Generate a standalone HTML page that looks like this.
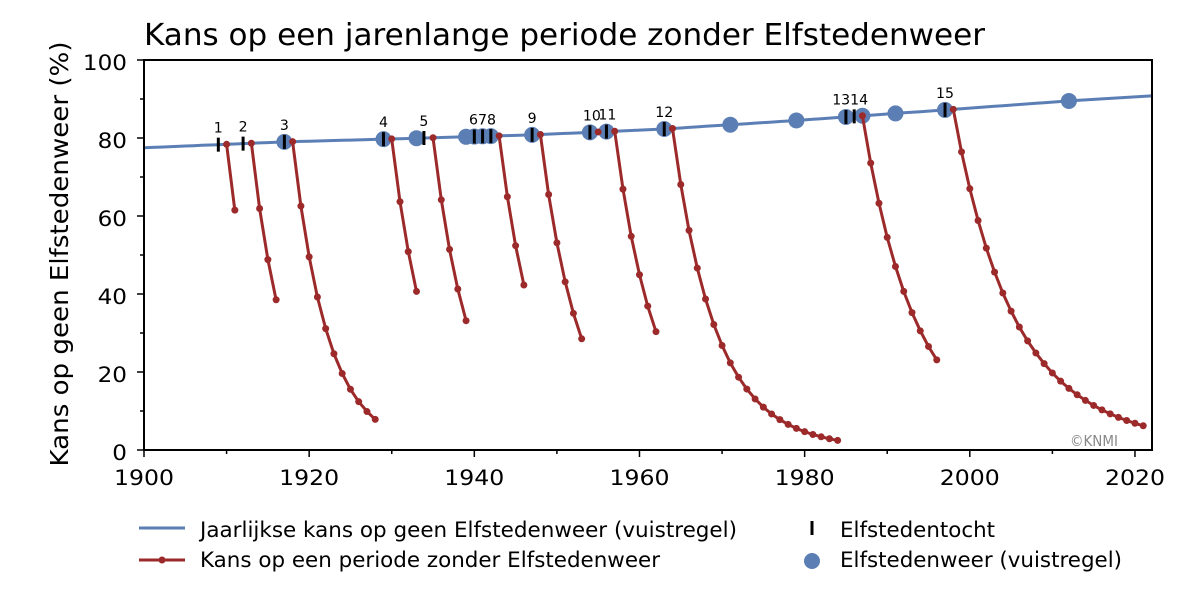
<!DOCTYPE html>
<html><head><meta charset="utf-8"><style>
html,body{margin:0;padding:0;background:#fff;}
svg{display:block;font-family:"DejaVu Sans","Liberation Sans",sans-serif;}
</style></head><body>
<svg id="s" width="1200" height="600" viewBox="0 0 1200 600">
<text x="144" y="45" font-size="30" fill="#000" textLength="841" lengthAdjust="spacingAndGlyphs">Kans op een jarenlange periode zonder Elfstedenweer</text>
<text transform="translate(68,254) rotate(-90)" font-size="25" text-anchor="middle" textLength="425" lengthAdjust="spacingAndGlyphs">Kans op geen Elfstedenweer (%)</text>
<g id="ticks" font-size="21.5"></g>
<g id="plot"></g>
<rect x="144" y="60" width="1008" height="390" fill="none" stroke="#000" stroke-width="2"/>
<text x="1070" y="446" font-size="15" fill="#888" textLength="48" lengthAdjust="spacingAndGlyphs">©KNMI</text>
<g font-size="21">
<line x1="139" y1="528" x2="185" y2="528" stroke="#5b7fb5" stroke-width="3"/>
<text x="200" y="537" textLength="537" lengthAdjust="spacingAndGlyphs">Jaarlijkse kans op geen Elfstedenweer (vuistregel)</text>
<line x1="139" y1="560" x2="185" y2="560" stroke="#9c2a2a" stroke-width="3"/>
<circle cx="162" cy="560" r="3.5" fill="#9c2a2a"/>
<text x="200" y="567" textLength="460" lengthAdjust="spacingAndGlyphs">Kans op een periode zonder Elfstedenweer</text>
<line x1="812" y1="521" x2="812" y2="535" stroke="#000" stroke-width="3"/>
<text x="840" y="537" textLength="155" lengthAdjust="spacingAndGlyphs">Elfstedentocht</text>
<circle cx="812" cy="561" r="8" fill="#5b7fb5"/>
<text x="840" y="567" textLength="282" lengthAdjust="spacingAndGlyphs">Elfstedenweer (vuistregel)</text>
</g>
</svg>
<script>
var NS="http://www.w3.org/2000/svg";
function X(y){return 144+(y-1900)*8.258;}
function Y(v){return 450-v*3.9;}
var bp=[[1900,77.5],[1917,79.0],[1929,79.7],[1947,80.8],[1963,82.3],[1979,84.5],[1997,87.2],[2012,89.5],[2022,90.8]];
function B(y){for(var i=0;i<bp.length-1;i++){if(y<=bp[i+1][0]){var a=bp[i],b=bp[i+1];return a[1]+(b[1]-a[1])*(y-a[0])/(b[0]-a[0]);}}return 90.8;}
function el(n,a,p){var e=document.createElementNS(NS,n);for(var k in a)e.setAttribute(k,a[k]);(p||document.getElementById('plot')).appendChild(e);return e;}
var t=document.getElementById('ticks');
for(var v=0;v<=100;v+=10){var yy=Y(v);el('line',{x1:144-(v%20?4:7),y1:yy,x2:144,y2:yy,stroke:'#000','stroke-width':1.5},t);
 if(v%20==0){var s=String(v);var tx=el('text',{x:127,y:yy+10,'text-anchor':'end',textLength:s.length*14.7,lengthAdjust:'spacingAndGlyphs'},t);tx.textContent=s;}}
for(var y=1900;y<=2020;y+=10){var xx=X(y);el('line',{x1:xx,y1:450,x2:xx,y2:450+(y%20?4:7),stroke:'#000','stroke-width':1.5},t);
 if(y%20==0){var tx=el('text',{x:xx,y:485,'text-anchor':'middle',textLength:60,lengthAdjust:'spacingAndGlyphs'},t);tx.textContent=y;}}
var d='';for(var y=1900;y<=2022;y+=1)d+=(y==1900?'M':'L')+X(y).toFixed(1)+','+Y(B(y)).toFixed(1);
el('path',{d:d,fill:'none',stroke:'#5b7fb5','stroke-width':3});
[1917,1929,1933,1939,1940,1941,1942,1947,1954,1956,1963,1971,1979,1985,1987,1991,1997,2012].forEach(function(y){el('circle',{cx:X(y),cy:Y(B(y)),r:8,fill:'#5b7fb5'});});
[[1910,1911],[1913,1916],[1918,1928],[1930,1933],[1935,1939],[1943,1946],[1948,1953],[1955,1955],[1957,1962],[1964,1984],[1987,1996],[1998,2021]].forEach(function(c){
 var p=1,pts=[];for(var y=c[0];y<=c[1];y++){p*=B(y)/100;pts.push([X(y),Y(100*p)]);}
 el('path',{d:'M'+pts.map(function(q){return q[0].toFixed(1)+','+q[1].toFixed(1);}).join('L'),fill:'none',stroke:'#9c2a2a','stroke-width':3});
 pts.forEach(function(q){el('circle',{cx:q[0],cy:q[1],r:3.5,fill:'#9c2a2a'});});});
var T=[[1909,'1'],[1912,'2'],[1917,'3'],[1929,'4'],[1933.9,'5'],[1940,''],[1941,'678'],[1942,''],[1947,'9'],[1954,'10'],[1956,'11'],[1963,'12'],[1985,''],[1986,'1314'],[1997,'15']];
T.forEach(function(a){var x=X(a[0]),y=Y(B(a[0]));el('line',{x1:x,y1:y-7,x2:x,y2:y+7,stroke:'#000','stroke-width':3});
 if(a[1]){var lx=x;if(a[1]=='10')lx=x+2;if(a[1]=='11')lx=x+1;if(a[1]=='1314')lx=x-4;
 var tx=el('text',{x:lx,y:y-12,'font-size':14,'text-anchor':'middle',textLength:a[1].length*9,lengthAdjust:'spacingAndGlyphs'});tx.textContent=a[1];}});
</script>
</body></html>
